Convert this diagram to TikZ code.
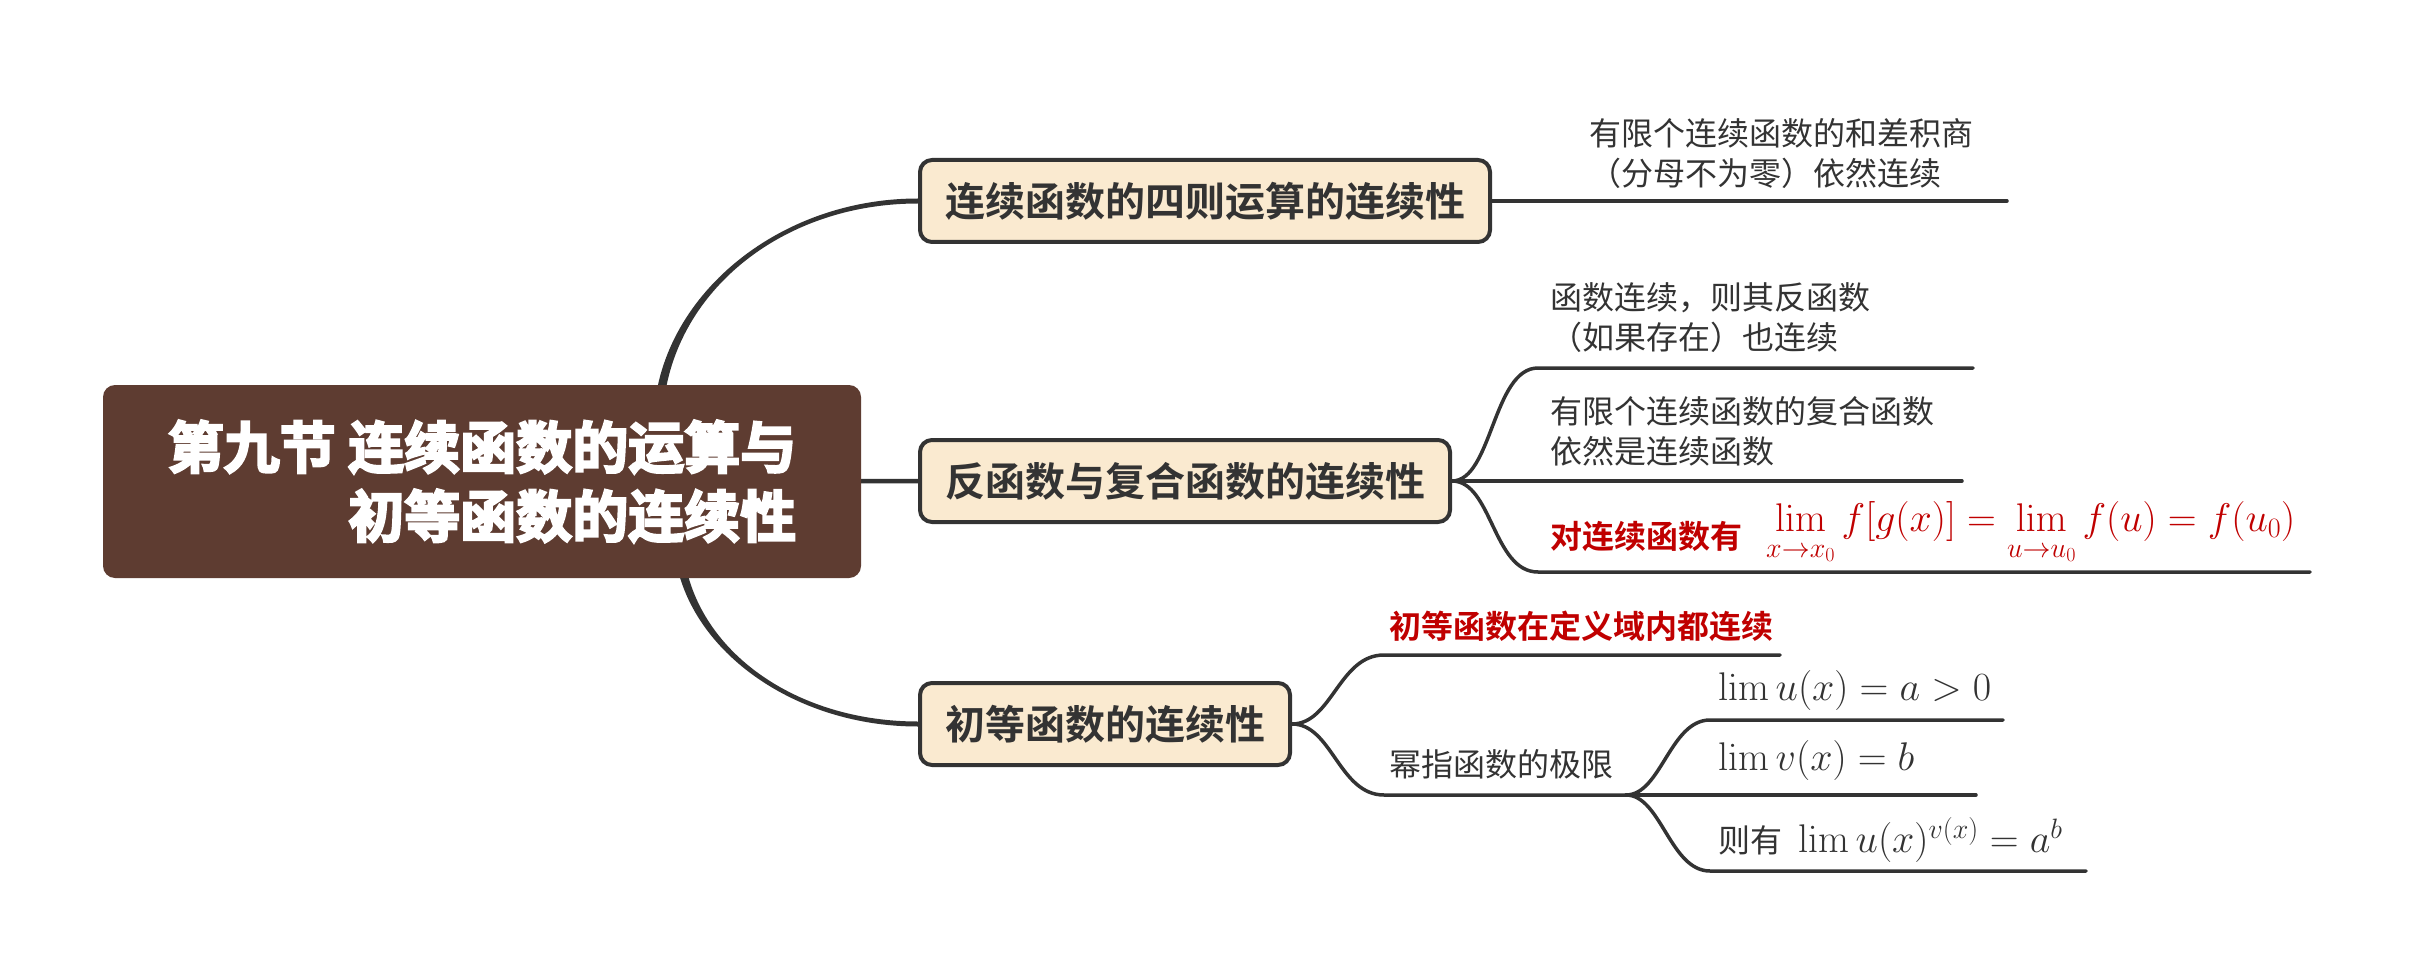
\RequirePackage{fix-cm}
\documentclass[tikz,border=0pt]{standalone}
\usepackage{amsmath}
\usepackage[no-math]{fontspec}
\newfontfamily\cjk{Noto Sans CJK SC}[BoldFont={Noto Sans CJK SC Bold}]
\newfontfamily\cjkheavy{Noto Sans CJK SC Bold}[FakeBold=4]
\usetikzlibrary{calc,backgrounds}
\definecolor{rootbrown}{HTML}{5E3C31}
\definecolor{nodefill}{HTML}{FAEAD0}
\definecolor{dark}{HTML}{333333}
\definecolor{redtxt}{HTML}{C00000}
\tikzset{
  rootbox/.style={fill=rootbrown, rounded corners=12pt, minimum width=758pt, minimum height=193pt, inner sep=0pt, align=right, text=white, font=\cjkheavy\fontsize{56}{69}\selectfont},
  topic/.style={draw=dark, line width=4pt, fill=nodefill, rounded corners=12pt, minimum height=82pt, inner xsep=25pt, inner ysep=0pt, anchor=west, text=dark, font=\cjk\bfseries\fontsize{40}{48}\selectfont},
  leaf/.style={inner sep=0pt, anchor=west, align=left, text=dark, font=\cjk\fontsize{32}{40}\selectfont},
  redleaf/.style={leaf, text=redtxt, font=\cjk\bfseries\fontsize{32}{40}\selectfont},
  mathleaf/.style={inner sep=0pt, anchor=west, text=dark, font=\fontsize{40}{48}\selectfont},
  branch/.style={draw=dark, line width=3.5pt, line cap=round},
}
\begin{document}
\begin{tikzpicture}[x=1pt,y=-1pt]
\useasboundingbox (0,0) rectangle (2412,976);
% nodes
\node[rootbox] (root) at (482,481.5) {第九节 连续函数的运算与\\初等函数的连续性};
\node[topic] (n1) at (918,201) {连续函数的四则运算的连续性};
\node[topic] (n2) at (918,481) {反函数与复合函数的连续性};
\node[topic] (n3) at (918,724) {初等函数的连续性};
% coordinates
\coordinate (u1e) at (2007,201);
\coordinate (u21s) at (1538,368); \coordinate (u21e) at (1973,368);
\coordinate (u22e) at (1962,481);
\coordinate (u23s) at (1538,572); \coordinate (u23e) at (2310,572);
\coordinate (u31s) at (1384,655); \coordinate (u31e) at (1780,655);
\coordinate (u32s) at (1384,795); \coordinate (u32e) at (1626,795);
\coordinate (u41s) at (1710,720); \coordinate (u41e) at (2003,720);
\coordinate (u42e) at (1976,795);
\coordinate (u43s) at (1710,871); \coordinate (u43e) at (2086,871);
\coordinate (rt) at (658,426); \coordinate (rt1) at (658,302); \coordinate (rt2) at (774,201);
\coordinate (rb) at (678,534); \coordinate (rb1) at (678,639); \coordinate (rb2) at (785,724);
% texts
\node[leaf] (t1) at (1589,154) {有限个连续函数的和差积商\\（分母不为零）依然连续};
\node[leaf] (t21) at (1550,317.5) {函数连续，则其反函数\\（如果存在）也连续};
\node[leaf] (t22) at (1550,431.5) {有限个连续函数的复合函数\\依然是连续函数};
\node[redleaf] (t23) at (1550,536) {对连续函数有};
\node[mathleaf, anchor=base west, text=redtxt] (f23) at (1766,531) {$\displaystyle\lim_{\rule{0pt}{22pt}x\to x_0} f[g(x)]=\lim_{\rule{0pt}{22pt}u\to u_0} f(u)=f(u_0)$};
\node[redleaf] (t31) at (1389,626) {初等函数在定义域内都连续};
\node[leaf] (t32) at (1389,764) {幂指函数的极限};
\node[mathleaf] (f41) at (1718,690) {$\lim u(x)=a>0$};
\node[mathleaf] (f42) at (1718,760) {$\lim v(x)=b$};
\node[leaf] (t43) at (1718,840) {则有\hspace{16pt}\fontsize{40}{48}\selectfont$\lim u(x)^{v(x)}=a^b$};
% connectors
\begin{scope}[on background layer]
\fill[white] (0,0) rectangle (2412,976);
\fill[dark] ($(rt)+(-4.5,0)$) .. controls ($(rt1)+(-4.5,0)$) and ($(rt2)+(0,-2.5)$) .. ($(n1.west)+(0,-2.5)$) -- ($(n1.west)+(0,2.5)$) .. controls ($(rt2)+(0,2.5)$) and ($(rt1)+(4.5,0)$) .. ($(rt)+(4.5,0)$) -- cycle;
\fill[dark] ($(rb)+(-4.5,0)$) .. controls ($(rb1)+(-4.5,0)$) and ($(rb2)+(0,2.5)$) .. ($(n3.west)+(0,2.5)$) -- ($(n3.west)+(0,-2.5)$) .. controls ($(rb2)+(0,-2.5)$) and ($(rb1)+(4.5,0)$) .. ($(rb)+(4.5,0)$) -- cycle;
\draw[dark, line width=4.5pt] (root.center) -- (n2.west);
\draw[branch] (n1.east) -- (u1e);
\draw[branch] (n2.east) .. controls +(40,0) and +(-45,0) .. (u21s) -- (u21e);
\draw[branch] (n2.east) -- (u22e);
\draw[branch] (n2.east) .. controls +(40,0) and +(-45,0) .. (u23s) -- (u23e);
\draw[branch] (n3.east) .. controls +(40,0) and +(-45,0) .. (u31s) -- (u31e);
\draw[branch] (n3.east) .. controls +(40,0) and +(-45,0) .. (u32s) -- (u32e);
\draw[branch] (u32e) .. controls +(35,0) and +(-40,0) .. (u41s) -- (u41e);
\draw[branch] (u32e) -- (u42e);
\draw[branch] (u32e) .. controls +(35,0) and +(-40,0) .. (u43s) -- (u43e);
\end{scope}
\end{tikzpicture}
\end{document}
